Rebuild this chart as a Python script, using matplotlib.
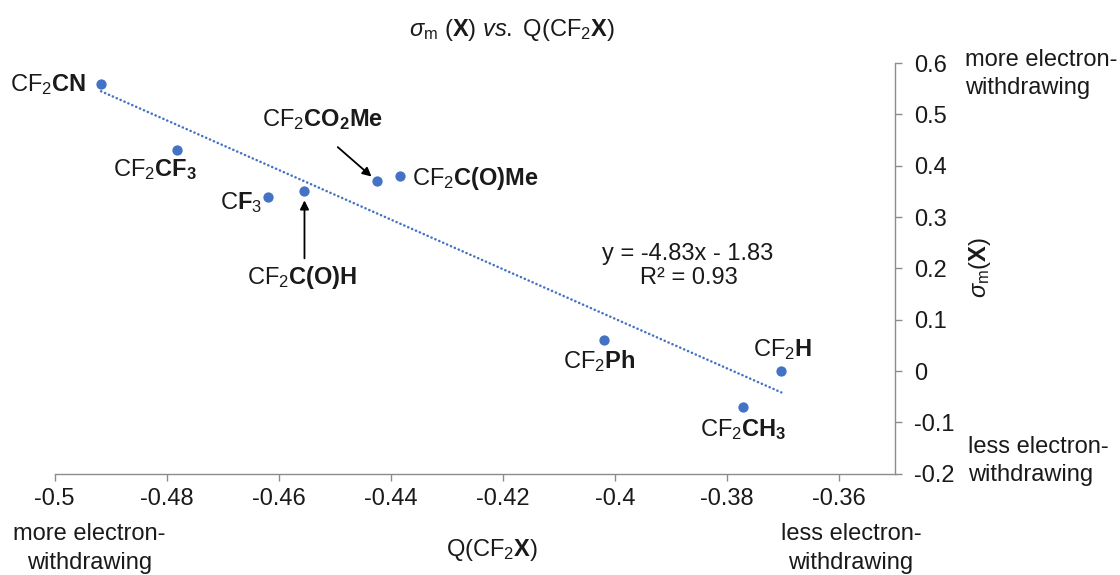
import matplotlib
matplotlib.use("Agg")
import matplotlib.pyplot as plt
import numpy as np

plt.rcParams.update({
    "font.family": ["Liberation Sans", "DejaVu Sans"],
    "mathtext.fontset": "custom",
    "mathtext.rm": "Liberation Sans",
    "mathtext.it": "Liberation Sans:italic",
    "mathtext.bf": "Liberation Sans:bold",
    "mathtext.sf": "Liberation Sans",
    "axes.unicode_minus": False,
})

# ---- data -------------------------------------------------------------
substituents = [
    r"CF$_2\mathbf{CN}$",
    r"CF$_2\mathbf{CF_3}$",
    r"C$\mathbf{F}_3$",
    r"CF$_2\mathbf{C(O)H}$",
    r"CF$_2\mathbf{CO_2Me}$",
    r"CF$_2\mathbf{C(O)Me}$",
    r"CF$_2\mathbf{Ph}$",
    r"CF$_2\mathbf{CH_3}$",
    r"CF$_2\mathbf{H}$",
]
q_cf2x = [-0.4917, -0.4782, -0.4620, -0.4554, -0.4425, -0.4383, -0.4020, -0.3771, -0.3703]
sigma_m = [0.56, 0.43, 0.34, 0.35, 0.37, 0.38, 0.06, -0.07, 0.00]

fit_slope = -4.83
fit_intercept = -1.83
fit_r2 = 0.93

x_ticks = [-0.5, -0.48, -0.46, -0.44, -0.42, -0.40, -0.38, -0.36]
x_tick_labels = ["-0.5", "-0.48", "-0.46", "-0.44", "-0.42", "-0.4", "-0.38", "-0.36"]
y_ticks = [0.6, 0.5, 0.4, 0.3, 0.2, 0.1, 0.0, -0.1, -0.2]
y_tick_labels = ["0.6", "0.5", "0.4", "0.3", "0.2", "0.1", "0", "-0.1", "-0.2"]

# ---- layout helpers (pixel positions on a 1120 x 575 canvas) ----------
W, H = 1120, 575
FS = 17
BLUE = "#4472C4"
AXIS_GREY = "#8c8c8c"
TXT = "#1a1a1a"


def fx(px):
    return px / W


def fy(py):
    return 1 - py / H


PT = 0.72  # points per pixel at 100 dpi

# label placement: (dx px, dy px to baseline, horizontal alignment)
label_layout = {
    r"CF$_2\mathbf{CN}$": (-15, 8, "right"),
    r"CF$_2\mathbf{CF_3}$": (-22, 26, "center"),
    r"C$\mathbf{F}_3$": (-5, 12.5, "right"),
    r"CF$_2\mathbf{C(O)H}$": (-2, 93, "center"),
    r"CF$_2\mathbf{CO_2Me}$": (-54, -55, "center"),
    r"CF$_2\mathbf{C(O)Me}$": (12, 9.5, "left"),
    r"CF$_2\mathbf{Ph}$": (-4, 27.5, "center"),
    r"CF$_2\mathbf{CH_3}$": (0, 29, "center"),
    r"CF$_2\mathbf{H}$": (1, -15, "center"),
}
# arrows: tail offset from the point (px) and gap before the point (pt)
arrow_layout = {
    r"CF$_2\mathbf{CO_2Me}$": ((-39, -34), 5),
    r"CF$_2\mathbf{C(O)H}$": ((0, 67), 6.5),
}

fig = plt.figure(figsize=(W / 100, H / 100), dpi=100)
ax = fig.add_axes([fx(54.6), fy(473.8), (895 - 54.6) / W, (473.8 - 63) / H])

ax.set_xlim(-0.5, -0.35)
ax.set_ylim(-0.2, 0.6)

for side in ("top", "left"):
    ax.spines[side].set_visible(False)
for side in ("bottom", "right"):
    ax.spines[side].set_color(AXIS_GREY)
    ax.spines[side].set_linewidth(1.0)

ax.yaxis.tick_right()
ax.set_xticks(x_ticks)
ax.set_xticklabels(x_tick_labels)
ax.set_yticks(y_ticks)
ax.set_yticklabels(y_tick_labels)
ax.tick_params(axis="both", direction="out", length=5, width=1.0,
               color=AXIS_GREY, labelsize=FS, labelcolor=TXT)
ax.tick_params(axis="x", pad=5)
ax.tick_params(axis="y", pad=9)

# linear trend line
xs = np.array([min(q_cf2x), max(q_cf2x)])
ax.plot(xs, fit_slope * xs + fit_intercept, color=BLUE, lw=1.8,
        linestyle=(0, (0.1, 1.6)), dash_capstyle="round", zorder=2)

# data points
ax.scatter(q_cf2x, sigma_m, s=55, color=BLUE, zorder=3, clip_on=False,
           linewidths=0)

# point labels and arrows
for name, x, y in zip(substituents, q_cf2x, sigma_m):
    dx, dy, ha = label_layout[name]
    ax.annotate(name, xy=(x, y), xytext=(dx * PT, -dy * PT),
                textcoords="offset points", ha=ha, va="baseline",
                fontsize=FS, color=TXT)
    if name in arrow_layout:
        (tx, ty), gap = arrow_layout[name]
        ax.annotate("", xy=(x, y), xytext=(tx * PT, -ty * PT),
                    textcoords="offset points",
                    arrowprops=dict(arrowstyle="-|>", color="black", lw=1.3,
                                    mutation_scale=13, shrinkA=0, shrinkB=gap))

# regression text
fig.text(fx(688), fy(260), f"y = {fit_slope:.2f}x - {abs(fit_intercept):.2f}",
         ha="center", va="baseline", fontsize=FS, color=TXT)
fig.text(fx(689), fy(284), f"R² = {fit_r2:.2f}",
         ha="center", va="baseline", fontsize=FS, color=TXT)

# title and axis titles
fig.text(fx(512), fy(36), r"$\mathit{\sigma}_{\mathrm{m}}$ ($\mathbf{X}$) $\mathit{vs.}$ Q(CF$_2\mathbf{X}$)",
         ha="center", va="baseline", fontsize=FS, color=TXT)
fig.text(fx(492), fy(556), r"Q(CF$_2\mathbf{X}$)",
         ha="center", va="baseline", fontsize=FS, color=TXT)
fig.text(fx(980), fy(268), r"$\mathit{\sigma}_{\mathrm{m}}$($\mathbf{X}$)",
         ha="center", va="center", rotation=90, fontsize=FS, color=TXT)

# direction annotations
fig.text(fx(89.5), fy(540), "more electron-", ha="center", va="baseline", fontsize=FS, color=TXT)
fig.text(fx(89.5), fy(569), "withdrawing", ha="center", va="baseline", fontsize=FS, color=TXT)
fig.text(fx(851), fy(540), "less electron-", ha="center", va="baseline", fontsize=FS, color=TXT)
fig.text(fx(851), fy(569), "withdrawing", ha="center", va="baseline", fontsize=FS, color=TXT)
fig.text(fx(965), fy(66), "more electron-", ha="left", va="baseline", fontsize=FS, color=TXT)
fig.text(fx(965), fy(94), "withdrawing", ha="left", va="baseline", fontsize=FS, color=TXT)
fig.text(fx(968), fy(453), "less electron-", ha="left", va="baseline", fontsize=FS, color=TXT)
fig.text(fx(968), fy(481), "withdrawing", ha="left", va="baseline", fontsize=FS, color=TXT)

fig.savefig("out.png", dpi=100, facecolor="white")
